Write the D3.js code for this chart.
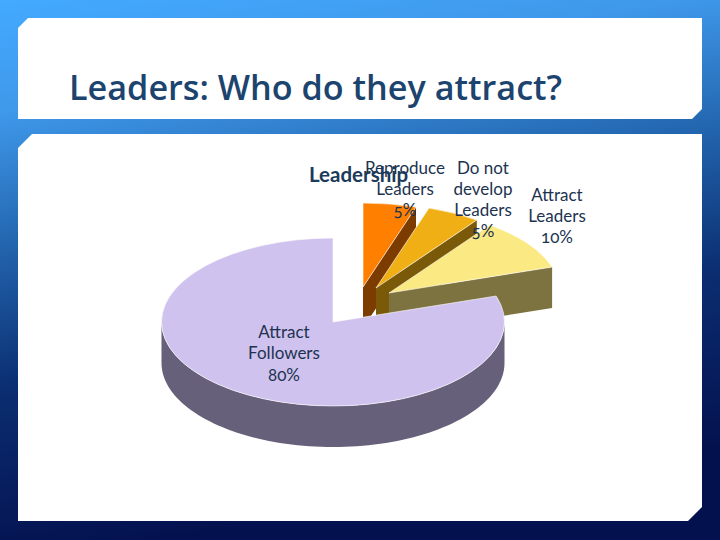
<!DOCTYPE html>
<html><head><meta charset="utf-8">
<script src="https://cdn.jsdelivr.net/npm/d3@7"></script>
<style>html,body{margin:0;padding:0;background:#fff}svg{display:block}
text{font-family:Lato,"Open Sans",sans-serif;font-feature-settings:"onum" 1}</style>
</head><body><svg id="c" width="720" height="540"></svg>
<script>
const titleText = "Leaders: Who do they attract?";
const chartTitle = "Leadership";
const categories = ["Reproduce Leaders","Do not develop Leaders","Attract Leaders","Attract Followers"];
const values = [5,5,10,80];
const labelLines = [["Reproduce","Leaders","5%"],["Do not","develop","Leaders","5%"],["Attract","Leaders","10%"],["Attract","Followers","80%"]];
const topColors = ["#ff8000","#f0b015","#fbe983","#d0c2ee"];
const wallColors = ["#7c3c00","#7a5a08","#7d7340","#67607a"];
const W=720,H=540;
const svg=d3.select("#c");
const defs=svg.append("defs");
const grad=defs.append("linearGradient").attr("id","bg").attr("x1",0).attr("y1",0).attr("x2",.22).attr("y2",1);
[[0,"#43aaff"],[.2,"#3f98ea"],[.42,"#2468b2"],[.68,"#0b2f72"],[1,"#04114f"]].forEach(d=>grad.append("stop").attr("offset",d[0]).attr("stop-color",d[1]));
svg.append("rect").attr("width",W).attr("height",H).attr("fill","url(#bg)");
const panel=(x0,y0,x1,y1,n)=>svg.append("path").attr("fill","#fff").attr("d",`M${x0+n},${y0}H${x1}V${y1-n}L${x1-n},${y1}H${x0}V${y0+n}Z`);
panel(18,18,702,119,10);
panel(18,134,702,521,14);
svg.append("text").attr("x",69).attr("y",100).attr("font-size",34.2).attr("font-weight",600).attr("fill","#1c446e")
  .style("font-family","'Open Sans',sans-serif").text(titleText);

const rx=171.5, ry=84, depth=41;
const pieLayout=d3.pie().sort(null).startAngle(0).endAngle(2*Math.PI);
const arcs=pieLayout(values);
const offsets=[[363,287],[376,288],[389,293],[333,322]];
const px=(c,a)=>[c[0]+rx*Math.sin(a), c[1]-ry*Math.cos(a)];
const arcGen=d3.arc().innerRadius(0).outerRadius(rx);
const lineGen=d3.line();
const drawTop=(i)=>svg.append("path").attr("d",arcGen(arcs[i]))
  .attr("transform",`translate(${offsets[i]}) scale(1,${ry/rx})`)
  .attr("fill",topColors[i]).attr("stroke","#fff").attr("stroke-width",.8);
// exploded slices, back to front
[0,1,2].forEach(i=>{
  const c=offsets[i],e=px(c,arcs[i].endAngle);
  svg.append("path").attr("fill",wallColors[i]).attr("d",lineGen([c,e,[e[0],e[1]+depth],[c[0],c[1]+depth]]));
  drawTop(i);
});
// large slice: outer rim then top
const bigCentre=offsets[3];
const angs=d3.range(Math.PI/2,3*Math.PI/2+.001,Math.PI/90);
const upper=angs.map(a=>px(bigCentre,a)), lower=angs.map(a=>{const p=px(bigCentre,a);return [p[0],p[1]+depth]}).reverse();
svg.append("path").attr("fill",wallColors[3]).attr("d",lineGen(upper.concat(lower))+"Z");
drawTop(3);

const label=(lines,x,y,lh,fs)=>{const t=svg.append("text").attr("text-anchor","middle").attr("font-size",fs).attr("fill","#1c3350");
 lines.forEach((l,k)=>t.append("tspan").attr("x",x).attr("y",y+k*lh).text(l));};
const labelPos=[[405,173],[483,173],[557,200],[284,338]];
labelLines.forEach((l,k)=>label(l,labelPos[k][0],labelPos[k][1]+(k<3?.5:0),21.3,17));
svg.append("text").attr("x",309).attr("y",181.5).attr("font-size",20.5).attr("font-weight",700).attr("fill","#1c3a5a").text(chartTitle);
</script></body></html>
